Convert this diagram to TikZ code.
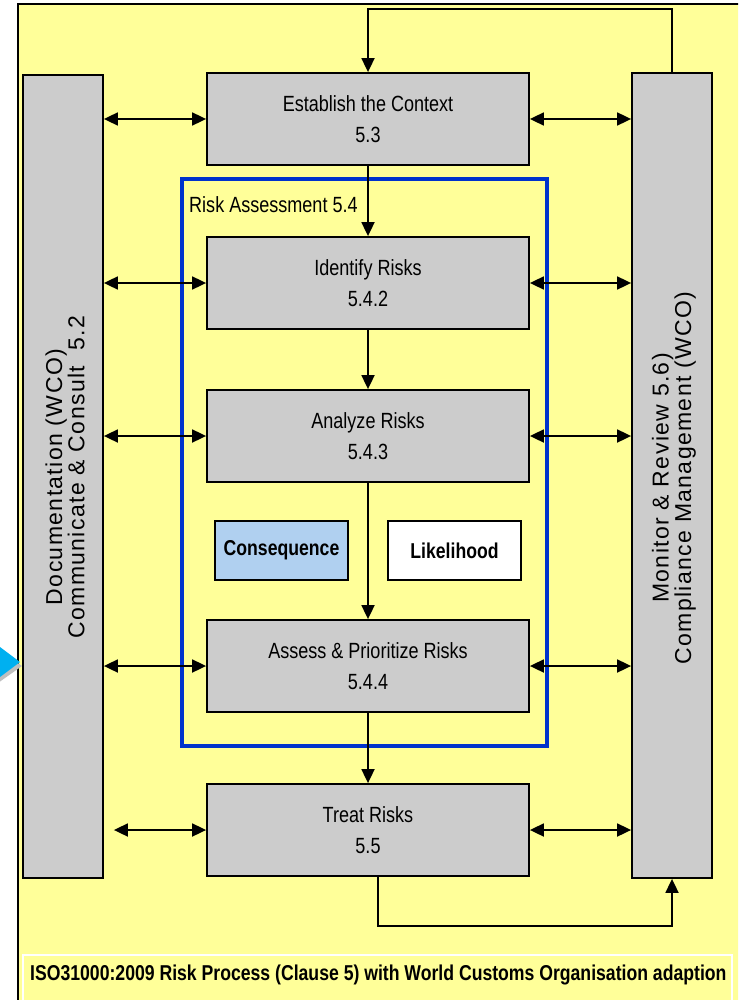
\documentclass[tikz,border=0pt]{standalone}
\usepackage{fontspec}
\setmainfont{Liberation Sans}
\newfontfamily\narrowfont[FakeStretch=0.82]{Liberation Sans}
\newfontfamily\spacedfont[LetterSpace=6]{Liberation Sans}
\usetikzlibrary{arrows.meta, positioning}

\definecolor{paleyellow}{RGB}{255,255,153}
\definecolor{boxgray}{RGB}{204,204,204}
\definecolor{frameblue}{RGB}{0,51,204}
\definecolor{conblue}{RGB}{176,208,240}
\definecolor{pointcyan}{RGB}{0,176,240}

\tikzset{
  procbox/.style={draw, fill=boxgray, line width=1.8pt, align=center,
    minimum width=322, minimum height=92, inner sep=0pt,
    font=\narrowfont\fontsize{22}{31}\selectfont},
  sidebox/.style={draw, fill=boxgray, line width=1.8pt,
    minimum width=80, inner sep=0pt},
  sidetext/.style={rotate=90, align=center, inner sep=0pt,
    font=\spacedfont\fontsize{23}{21}\selectfont},
  factorbox/.style={draw, line width=1.5pt, minimum width=133,
    minimum height=59, inner sep=0pt,
    font=\narrowfont\bfseries\fontsize{21.5}{24}\selectfont},
  biarrow/.style={{Triangle[length=14pt,width=13pt]}-{Triangle[length=14pt,width=13pt]}, line width=1.8pt},
  onearrow/.style={-{Triangle[length=14pt,width=13pt]}, line width=1.8pt}
}

\begin{document}
\begin{tikzpicture}[x=1pt, y=-1pt]
      \useasboundingbox (0,0) rectangle (738,1000);
      \clip (0,0) rectangle (738,1000);
      \fill[white] (0,0) rectangle (738,1000);

      % Draw the yellow sheet
      \draw[fill=paleyellow, line width=2.5pt] (18,4) rectangle (770,1030);

      % Draw the blue pointer on the left
      \fill[black!25] (-12,642) -- (22,666) -- (-12,690) -- cycle;
      \fill[pointcyan] (-12,638) -- (20,662) -- (-12,686) -- cycle;

      % Draw the side columns
      \node[sidebox, minimum height=803] (doccol) at (63,476.5) {};
      \node[sidebox, minimum height=805] (moncol) at (672,475.5) {};
      \node[sidetext] (doctext) at (65,477) {Documentation (WCO)\\Communicate \& Consult\ \ 5.2};
      \node[sidetext] (montext) at (674,478) {Monitor \& Review 5.6)\\Compliance Management (WCO)};

      % Draw the risk assessment frame
      \draw[frameblue, line width=4pt] (182,179) rectangle (547,746);
      \node[anchor=base west, inner sep=0pt,
        font=\narrowfont\fontsize{22}{26}\selectfont] (risklabel) at (189,213) {Risk Assessment 5.4};

      % Draw the process steps
      \node[procbox] (context) at (368,119) {Establish the Context\\5.3};
      \node[procbox] (identify) at (368,283) {Identify Risks\\5.4.2};
      \node[procbox] (analyze) at (368,436) {Analyze Risks\\5.4.3};
      \node[procbox] (assess) at (368,666) {Assess \& Prioritize Risks\\5.4.4};
      \node[procbox] (treat) at (368,830) {Treat Risks\\5.5};

      \node[factorbox, fill=conblue] (consequence) at (281.5,550.5) {Consequence};
      \node[factorbox, fill=white] (likelihood) at (454.5,550.5) {Likelihood};

      % Draw the arrows down the steps
      \draw[onearrow] (context.south) -- (identify.north);
      \draw[onearrow] (identify.south) -- (analyze.north);
      \draw[onearrow] (analyze.south) -- (assess.north);
      \draw[onearrow] (assess.south) -- (treat.north);

      % Draw the arrows to the side columns
      \foreach \step in {context, identify, analyze, assess} {
        \draw[biarrow] (\step.west -| doccol.east) -- (\step.west);
        \draw[biarrow] (\step.east) -- (\step.east -| moncol.west);
      }
      \draw[biarrow] ([xshift=10pt]treat.west -| doccol.east) -- (treat.west);
      \draw[biarrow] (treat.east) -- (treat.east -| moncol.west);

      % Draw the feedback loops
      \draw[onearrow] (moncol.north) -- ++(0,-63) -| (context.north);
      \draw[onearrow] ([xshift=10pt]treat.south) -- ++(0,49) -| (moncol.south);

      % Draw the caption strip
      \draw[white, line width=1.5pt] (23,955) rectangle (732,1012);
      \node[anchor=base west, inner sep=0pt,
        font=\narrowfont\bfseries\fontsize{21.5}{24}\selectfont] (caption) at (30,980)
        {ISO31000:2009 Risk Process (Clause 5) with World Customs Organisation adaption};

\end{tikzpicture}
\end{document}
